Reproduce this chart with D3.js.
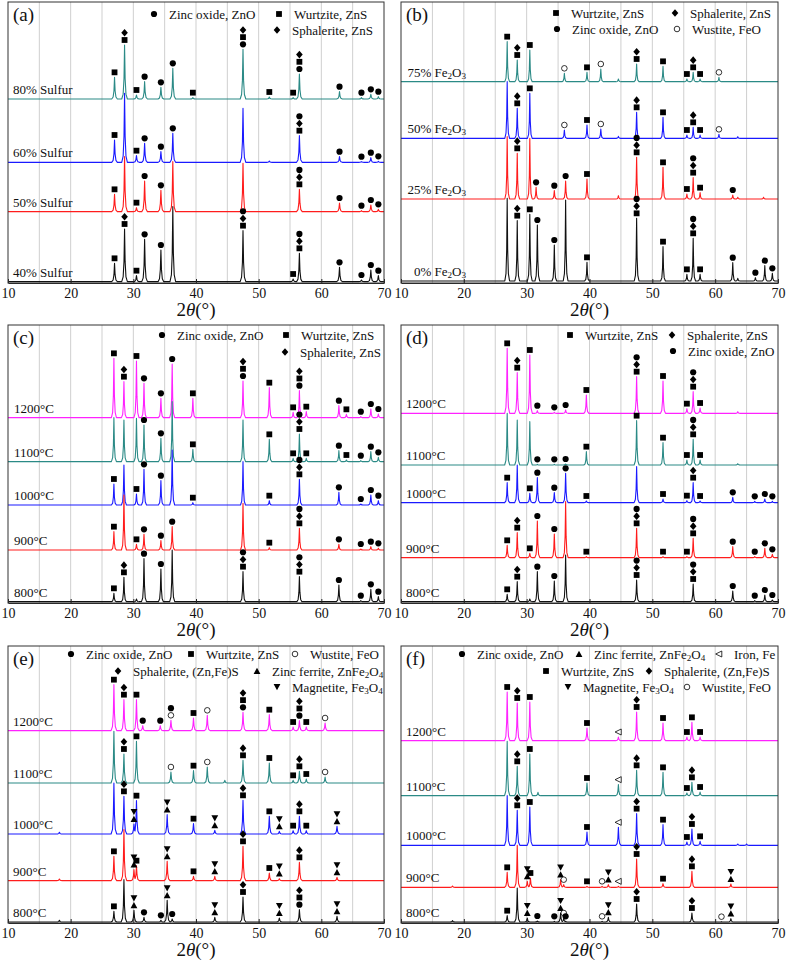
<!DOCTYPE html>
<html><head><meta charset="utf-8">
<script src="https://cdn.jsdelivr.net/npm/d3@7"></script>
<style>body{margin:0;background:#fff}svg{display:block}</style>
</head><body><svg id="c" width="787" height="962"></svg>
<script>
// ---------------- DATA ----------------
// 2θ axis
const thetaTicks = [10, 20, 30, 40, 50, 60, 70];
const thetaGrid = [15, 20, 25, 30, 35, 40, 45, 50, 55, 60, 65];
// phase codes: Z ZnO, W wurtzite, S sphalerite, U wustite, F zinc ferrite, M magnetite, I iron
// each peak: [2θ, intensity above pattern baseline (a.u.), phases marked (bottom→top)]

// (a) sulfur addition
const labelsA = ["80% Sulfur", "60% Sulfur", "50% Sulfur", "40% Sulfur"];
const offsetsA = [552, 362, 214, 4];
const peaksA = [
  [[27.0,65,"W"],[28.6,162,"WS"],[30.5,12,"W"],[31.8,52,"Z"],[34.4,35,"Z"],[36.3,92,"Z"],[39.5,4,"W"],[47.5,149,"ZWS"],[51.7,6,"W"],[55.5,4,"W"],[56.5,75,"ZWS"],[62.9,22,"Z"],[66.4,4,"Z"],[67.9,14,"Z"],[69.1,7,"Z"]],
  [[27.0,67,"W"],[28.6,207,""],[30.5,20,"W"],[31.8,57,"Z"],[34.4,32,"Z"],[36.3,87,"Z"],[47.5,162,""],[51.7,4,""],[56.5,80,"WSZ"],[62.9,17,"Z"],[66.4,2,"Z"],[67.9,14,"Z"],[69.1,3,"Z"]],
  [[27.0,52,"W"],[28.6,165,""],[30.5,12,"W"],[31.8,92,"Z"],[34.4,64,"Z"],[36.3,150,""],[47.5,145,""],[56.5,67,"WSZ"],[62.9,26,"Z"],[66.4,3,"Z"],[67.9,20,"Z"],[69.1,7,"Z"]],
  [[27.0,55,"W"],[28.6,158,"WS"],[30.5,18,"W"],[31.8,127,"Z"],[34.4,95,"Z"],[36.3,225,""],[47.5,153,"WSZ"],[55.5,8,"W"],[56.5,85,"WSZ"],[62.9,43,"Z"],[66.4,5,"Z"],[67.9,35,"Z"],[69.1,18,"Z"]]
];
const legendA = [["Z","Zinc oxide, ZnO"],["W","Wurtzite, ZnS"],["S","Sphalerite, ZnS"]];

// (b) Fe2O3 addition
const labelsB = ["75% Fe_2O_3", "50% Fe_2O_3", "25% Fe_2O_3", "0% Fe_2O_3"];
const offsetsB = [604, 434, 252, 6];
const peaksB = [
  [[26.9,120,"W"],[28.5,65,"WS"],[30.5,95,"W"],[36.0,25,"U"],[39.6,28,"W"],[41.8,38,"U"],[44.6,8,""],[47.5,53,"WS"],[51.7,46,"W"],[55.5,8,"W"],[56.5,28,"WS"],[57.6,8,"W"],[60.6,13,"U"]],
  [[26.9,170,""],[28.5,90,"WS"],[30.5,135,"W"],[36.0,25,"U"],[39.6,40,"W"],[41.8,28,"U"],[44.6,6,""],[47.5,78,"WS"],[51.7,63,"W"],[55.5,10,"W"],[56.5,33,"WS"],[57.6,10,"W"],[60.6,12,"U"],[63.6,5,""]],
  [[26.9,187,""],[28.5,137,"WS"],[30.5,182,""],[31.5,35,"Z"],[34.4,25,"Z"],[36.2,54,"Z"],[39.6,60,"W"],[44.6,10,""],[47.5,125,"WSZ"],[51.7,95,"W"],[55.5,15,"W"],[56.5,64,"WSZ"],[57.6,19,"W"],[62.8,12,"Z"],[63.6,5,""],[67.7,5,""]],
  [[26.9,248,""],[28.5,181,"WS"],[30.5,200,"W"],[31.7,168,"Z"],[34.4,108,"Z"],[36.2,243,""],[39.6,56,"W"],[47.5,188,"WSZ"],[51.7,103,"W"],[55.5,20,"W"],[56.5,128,"WSZ"],[57.6,20,"W"],[62.8,55,"Z"],[63.6,8,""],[66.4,10,"Z"],[67.9,46,"Z"],[69.1,23,"Z"]]
];
const legendB = [["W","Wurtzite, ZnS"],["S","Sphalerite, ZnS"],["Z","Zinc oxide, ZnO"],["U","Wustite, FeO"]];

// (c) temperature series
const labelsC = ["1200°C", "1100°C", "1000°C", "900°C", "800°C"];
const offsetsC = [556, 424, 294, 159, 4];
const peaksC = [
  [[26.9,178,"W"],[28.5,108,"WS"],[30.5,170,"W"],[31.7,103,"Z"],[34.4,58,"Z"],[36.2,161,"Z"],[39.5,58,"W"],[47.5,110,"ZWS"],[51.7,90,"W"],[55.5,16,"W"],[56.5,81,"ZWS"],[57.6,18,"W"],[62.8,36,"Z"],[64.0,10,"W"],[66.3,3,"Z"],[67.9,26,"Z"],[69.1,11,"Z"]],
  [[26.9,132,""],[28.5,125,""],[30.5,130,""],[31.7,110,"Z"],[34.4,70,"Z"],[36.2,180,""],[39.5,37,"W"],[47.5,125,""],[51.7,67,"W"],[55.5,10,"W"],[56.5,83,"WSZ"],[57.6,10,"W"],[62.8,33,"Z"],[64.0,5,"W"],[66.3,3,"Z"],[67.9,30,"Z"],[69.1,13,"Z"]],
  [[26.9,63,"W"],[28.5,120,""],[30.5,33,"W"],[31.7,107,"Z"],[34.4,73,"Z"],[36.2,165,""],[39.5,7,"W"],[47.5,130,""],[51.7,13,"W"],[56.5,77,"WSZ"],[62.8,38,"Z"],[66.3,3,"Z"],[67.9,30,"Z"],[69.1,13,"Z"]],
  [[26.9,55,"W"],[28.5,165,""],[30.5,17,"W"],[31.7,47,"Z"],[34.4,28,"Z"],[36.2,70,"Z"],[47.5,140,""],[51.7,7,"W"],[56.5,65,"WSZ"],[62.8,17,"Z"],[66.3,3,"Z"],[67.9,10,"Z"],[69.1,5,"Z"]],
  [[26.9,25,"W"],[28.5,73,"WS"],[30.5,8,""],[31.7,129,"Z"],[34.4,98,"Z"],[36.2,155,""],[47.5,90,"WSZ"],[56.5,75,"WSZ"],[62.8,50,"Z"],[66.3,3,"Z"],[67.9,37,"Z"],[69.1,15,"Z"]]
];
const legendC = [["Z","Zinc oxide, ZnO"],["W","Wurtzite, ZnS"],["S","Sphalerite, ZnS"]];

// (d) temperature series
const labelsD = ["1200°C", "1100°C", "1000°C", "900°C", "800°C"];
const offsetsD = [569, 414, 301, 136, 4];
const peaksD = [
  [[26.9,195,"W"],[28.5,122,"WS"],[30.5,175,"W"],[31.7,8,"Z"],[34.4,3,"Z"],[36.2,10,"Z"],[39.5,55,"W"],[47.5,110,"WSZ"],[51.7,97,"W"],[55.5,14,"W"],[56.5,65,"WSZ"],[57.6,16,"W"],[63.6,5,""]],
  [[26.9,155,""],[28.5,135,""],[30.5,130,""],[31.7,2,"Z"],[34.4,2,"Z"],[36.2,3,"Z"],[39.5,40,"W"],[47.5,133,"W"],[51.7,67,"W"],[55.5,15,"W"],[56.5,77,"WSZ"],[57.6,15,"W"],[63.6,4,""]],
  [[26.9,60,"W"],[28.5,113,""],[30.5,28,"W"],[31.7,75,"Z"],[34.4,30,"Z"],[36.2,88,"Z"],[39.5,5,"W"],[47.5,108,""],[51.7,11,"W"],[55.5,6,"W"],[56.5,60,"WS"],[57.6,5,"W"],[62.8,16,"Z"],[66.3,4,"Z"],[67.9,11,"Z"],[69.1,4,"Z"]],
  [[26.9,37,"W"],[28.5,75,"WS"],[30.5,13,"W"],[31.7,110,"Z"],[34.4,71,"Z"],[36.2,168,""],[39.5,3,"W"],[47.5,88,"WSZ"],[51.7,3,"W"],[55.5,3,"W"],[56.5,58,"WSZ"],[62.8,33,"Z"],[66.3,3,"Z"],[67.9,28,"Z"],[69.1,10,"Z"]],
  [[26.9,22,"W"],[28.5,60,"WS"],[30.5,8,""],[31.7,90,"Z"],[34.4,62,"Z"],[36.2,140,""],[47.5,65,"WSZ"],[56.5,53,"WSZ"],[62.8,32,"Z"],[66.3,3,"Z"],[67.9,20,"Z"],[69.1,5,"Z"]]
];
const legendD = [["W","Wurtzite, ZnS"],["S","Sphalerite, ZnS"],["Z","Zinc oxide, ZnO"]];

// (e) temperature series with iron
const labelsE = ["1200°C", "1100°C", "1000°C", "900°C", "800°C"];
const offsetsE = [577, 420, 267, 127, 3];
const peaksE = [
  [[26.9,138,"W"],[28.5,93,"WS"],[30.5,93,"W"],[31.5,15,"Z"],[34.3,15,"Z"],[36.0,31,"UZ"],[39.6,38,"W"],[41.8,46,"U"],[47.5,55,"ZWS"],[51.7,48,"W"],[55.5,11,"W"],[56.5,30,"ZWS"],[57.6,11,"W"],[60.6,23,"U"]],
  [[26.9,155,""],[28.5,87,"WS"],[30.5,125,"W"],[36.0,33,"U"],[39.6,37,"W"],[41.8,48,"U"],[44.6,8,""],[47.5,68,"WS"],[51.7,60,"W"],[55.5,8,"W"],[56.5,35,"WS"],[57.6,12,"W"],[60.6,18,"U"]],
  [[18.2,5,""],[26.9,153,""],[28.5,113,"WS"],[30.1,30,"FM"],[30.5,100,"W"],[35.4,58,"FM"],[39.6,31,"W"],[43.0,11,"FM"],[47.5,101,"WS"],[51.7,53,"W"],[53.3,8,"FM"],[55.5,10,"W"],[56.5,53,"WS"],[57.6,10,"W"],[62.5,23,"FM"]],
  [[18.2,5,""],[26.9,73,"W"],[28.5,153,""],[30.1,33,"FM"],[30.5,45,"W"],[35.4,58,"FM"],[39.6,13,"W"],[43.0,13,"FM"],[47.5,103,"WS"],[51.7,23,"W"],[53.3,6,"FM"],[56.5,55,"WS"],[62.5,10,"FM"]],
  [[18.2,5,""],[26.9,32,"W"],[28.5,127,""],[30.1,35,"FM"],[31.7,14,"Z"],[34.4,5,"Z"],[35.4,65,"FM"],[36.2,9,"Z"],[43.0,14,"FM"],[47.5,75,"WS"],[53.3,12,"FM"],[56.5,37,"ZWS"],[62.5,17,"FM"]]
];
const legendE = [["Z","Zinc oxide, ZnO"],["W","Wurtzite, ZnS"],["U","Wustite, FeO"],["S","Sphalerite, (Zn,Fe)S"],["F","Zinc ferrite, ZnFe_2O_4"],["M","Magnetite, Fe_3O_4"]];

// (f) temperature series with iron
const labelsF = ["1200°C", "1100°C", "1000°C", "900°C", "800°C"];
const offsetsF = [547, 382, 233, 107, 3];
const peaksF = [
  [[26.9,146,"W"],[28.5,113,"WS"],[30.5,116,"W"],[39.6,38,"W"],[44.6,11,"I"],[47.5,86,"WS"],[51.7,53,"W"],[55.5,11,"W"],[56.3,55,"W"],[57.6,11,"W"]],
  [[26.9,163,""],[28.5,88,"WS"],[30.5,125,"W"],[31.8,10,""],[39.6,38,"W"],[44.6,33,"I"],[47.5,76,"WS"],[51.7,70,"W"],[55.5,8,"W"],[56.3,40,"WS"],[57.6,11,"W"]],
  [[26.9,149,""],[28.5,105,"WS"],[30.5,115,"W"],[39.6,40,"W"],[44.6,54,"I"],[47.5,95,"WS"],[51.7,62,"W"],[55.5,10,"W"],[56.3,49,"WS"],[57.6,12,"W"],[63.6,4,""],[65.0,4,""]],
  [[18.2,4,""],[26.9,45,"W"],[28.5,126,""],[30.1,18,"FM"],[30.6,28,"W"],[35.4,23,"FM"],[35.9,8,"U"],[39.6,3,"W"],[42.0,3,"U"],[43.0,8,"FM"],[44.6,3,"I"],[47.5,85,"WS"],[51.7,11,"W"],[56.3,48,"WS"],[62.5,10,"FM"]],
  [[18.2,4,""],[26.9,19,"W"],[28.5,102,""],[30.1,12,"FM"],[31.7,3,"Z"],[34.4,2,"Z"],[35.4,27,"FM"],[35.9,12,"U"],[36.2,2,"Z"],[42.0,2,"U"],[43.0,14,"FM"],[47.5,54,"WS"],[56.3,27,"WS"],[61.0,1,"U"],[62.5,10,"FM"]]
];
const legendF = [["Z","Zinc oxide, ZnO"],["F","Zinc ferrite, ZnFe_2O_4"],["I","Iron, Fe"],["W","Wurtzite, ZnS"],["S","Sphalerite, (Zn,Fe)S"],["M","Magnetite, Fe_3O_4"],["U","Wustite, FeO"]];

// ---------------- LAYOUT / STYLE ----------------
const C_TEAL = "#2b8a86", C_BLUE = "#1a1aff", C_RED = "#ff1c1c", C_MAG = "#ff22ff", C_BLK = "#111";
const col4 = [C_TEAL, C_BLUE, C_RED, C_BLK];
const col5 = [C_MAG, C_TEAL, C_BLUE, C_RED, C_BLK];
const FONT = "'Liberation Serif','Times New Roman',serif";

const panels = [
  {tag:"(a)", x0:8,   x1:384, y0:2,   y1:283, dom:843, labels:labelsA, offsets:offsetsA, peaks:peaksA, colors:col4, legend:legendA,
   legPos:[[154,14],[279,14],[277,30]], labAnchor:"start", labX:13, w:0.45},
  {tag:"(b)", x0:401, x1:778, y0:2,   y1:283, dom:843, labels:labelsB, offsets:offsetsB, peaks:peaksB, colors:col4, legend:legendB,
   legPos:[[556,13],[675,13],[557,29],[677,29]], labAnchor:"end", labX:466, w:0.38},
  {tag:"(c)", x0:8,   x1:384, y0:325, y1:603, dom:834, labels:labelsC, offsets:offsetsC, peaks:peaksC, colors:col5, legend:legendC,
   legPos:[[162,335],[286,335],[285,352]], labAnchor:"start", labX:14, w:0.4},
  {tag:"(d)", x0:401, x1:778, y0:325, y1:603, dom:834, labels:labelsD, offsets:offsetsD, peaks:peaksD, colors:col5, legend:legendD,
   legPos:[[570,335],[672,335],[673,351]], labAnchor:"start", labX:406, w:0.4},
  {tag:"(e)", x0:8,   x1:384, y0:646, y1:923, dom:831, labels:labelsE, offsets:offsetsE, peaks:peaksE, colors:col5, legend:legendE,
   legPos:[[71,654],[191,654],[295,654],[118,671],[257,671],[277,687]], labAnchor:"start", labX:13, w:0.45},
  {tag:"(f)", x0:401, x1:778, y0:646, y1:923, dom:831, labels:labelsF, offsetsF:null, offsets:offsetsF, peaks:peaksF, colors:col5, legend:legendF,
   legPos:[[462,654],[579,654],[719,654],[546,671],[649,671],[568,687],[687,687]], labAnchor:"start", labX:406, w:0.42}
];

// peak profile in units of half-base width and fraction of peak height
const shape = [[-1,0],[-0.5,0.09],[-0.2,0.38],[0,1],[0.2,0.38],[0.5,0.09],[1,0]];

// ---------------- DRAW ----------------
const svg = d3.select("#c");

function rich(sel, str) {
  const parts = str.split(/_(\d)/);
  let sub = false;
  parts.forEach((s, i) => {
    if (s === "") return;
    const t = sel.append("tspan").text(s);
    if (i % 2 === 1) { t.attr("font-size", "70%").attr("dy", 2); sub = true; }
    else if (sub) { t.attr("dy", -2); sub = false; }
  });
}

function drawSymbol(g, code, cx, cy) {
  const k = g.append("g").attr("transform", `translate(${cx},${cy})`);
  if (code === "Z") k.append("circle").attr("r", 3.1).attr("fill", "#000");
  else if (code === "U") k.append("circle").attr("r", 2.8).attr("fill", "#fff").attr("stroke", "#000").attr("stroke-width", 0.8);
  else if (code === "W") k.append("rect").attr("x", -2.9).attr("y", -2.9).attr("width", 5.8).attr("height", 5.8).attr("fill", "#000");
  else if (code === "S") k.append("path").attr("d", "M0,-3.8L3.3,0L0,3.8L-3.3,0Z").attr("fill", "#000");
  else if (code === "F") k.append("path").attr("d", "M0,-3.3L3.4,2.9L-3.4,2.9Z").attr("fill", "#000");
  else if (code === "M") k.append("path").attr("d", "M0,3.3L3.4,-2.9L-3.4,-2.9Z").attr("fill", "#000");
  else if (code === "I") k.append("path").attr("d", "M-3.3,0L2.8,-3L2.8,3Z").attr("fill", "#fff").attr("stroke", "#000").attr("stroke-width", 0.8);
}

function curve(peaks, w) {
  const set = new Set([10, 70]);
  peaks.forEach(p => shape.forEach(s => set.add(+(p[0] + s[0] * w).toFixed(4))));
  const xs = [...set].filter(v => v >= 10 && v <= 70).sort((a, b) => a - b);
  return xs.map(v => {
    let best = 0;
    peaks.forEach(p => {
      const u = (v - p[0]) / w;
      if (u <= -1 || u >= 1) return;
      for (let i = 0; i < shape.length - 1; i++) {
        const a = shape[i], b = shape[i + 1];
        if (u >= a[0] && u <= b[0]) {
          const f = a[1] + (b[1] - a[1]) * (u - a[0]) / (b[0] - a[0]);
          best = Math.max(best, p[1] * f);
          break;
        }
      }
    });
    return [v, best];
  });
}

panels.forEach(P => {
  const g = svg.append("g");
  const x = d3.scaleLinear().domain([10, 70]).range([P.x0, P.x1]);
  const y = d3.scaleLinear().domain([0, P.dom]).range([P.y1, P.y0]);

  // grid
  g.append("g").selectAll("line").data(thetaGrid).join("line")
    .attr("x1", d => x(d)).attr("x2", d => x(d)).attr("y1", P.y0).attr("y2", P.y1)
    .attr("stroke", "#cfcfcf").attr("stroke-width", 1);

  // patterns
  P.peaks.forEach((pk, i) => {
    const off = P.offsets[i];
    const line = d3.line().x(d => x(d[0])).y(d => y(off + d[1]));
    g.append("path").datum(curve(pk, P.w)).attr("d", line)
      .attr("fill", "none").attr("stroke", P.colors[i]).attr("stroke-width", 1.1)
      .attr("stroke-linejoin", "round");
  });

  // markers
  P.peaks.forEach((pk, i) => {
    const off = P.offsets[i];
    pk.forEach(p => {
      const top = y(off + p[1]);
      [...p[2]].forEach((code, j) => drawSymbol(g, code, x(p[0]), top - 5 - 7.2 * j));
    });
  });

  // pattern labels
  P.labels.forEach((lab, i) => {
    const t = g.append("text").attr("x", P.labX).attr("y", y(P.offsets[i]) - 5)
      .attr("text-anchor", P.labAnchor).attr("font-family", FONT).attr("font-size", 13).attr("fill", "#111");
    rich(t, lab);
  });

  // legend
  P.legend.forEach((L, i) => {
    const [lx, ly] = P.legPos[i];
    drawSymbol(g, L[0], lx, ly);
    const t = g.append("text").attr("x", lx + 15).attr("y", ly + 4.5)
      .attr("font-family", FONT).attr("font-size", 13).attr("fill", "#111");
    rich(t, L[1]);
  });

  // tag
  g.append("text").attr("x", P.x0 + 5).attr("y", P.y0 + 19).attr("font-family", FONT)
    .attr("font-size", 19).attr("fill", "#111").text(P.tag);

  // axis
  const ax = g.append("g").attr("transform", `translate(0,${P.y1})`)
    .call(d3.axisBottom(x).tickValues(thetaTicks).tickSizeInner(-4).tickSizeOuter(0).tickPadding(5).tickFormat(d3.format("d")));
  ax.selectAll("text").attr("font-family", FONT).attr("font-size", 14).attr("fill", "#111");
  ax.selectAll("line").attr("stroke", "#222");
  ax.select(".domain").attr("stroke", "#222");

  // frame
  g.append("rect").attr("x", P.x0).attr("y", P.y0).attr("width", P.x1 - P.x0).attr("height", P.y1 - P.y0)
    .attr("fill", "none").attr("stroke", "#333").attr("stroke-width", 1);

  // axis title
  const tt = g.append("text").attr("x", (P.x0 + P.x1) / 2).attr("y", P.y1 + 33)
    .attr("text-anchor", "middle").attr("font-family", FONT).attr("font-size", 19).attr("fill", "#111");
  tt.append("tspan").text("2");
  tt.append("tspan").attr("font-style", "italic").text("θ");
  tt.append("tspan").text("(°)");
});
</script>
</body></html>
